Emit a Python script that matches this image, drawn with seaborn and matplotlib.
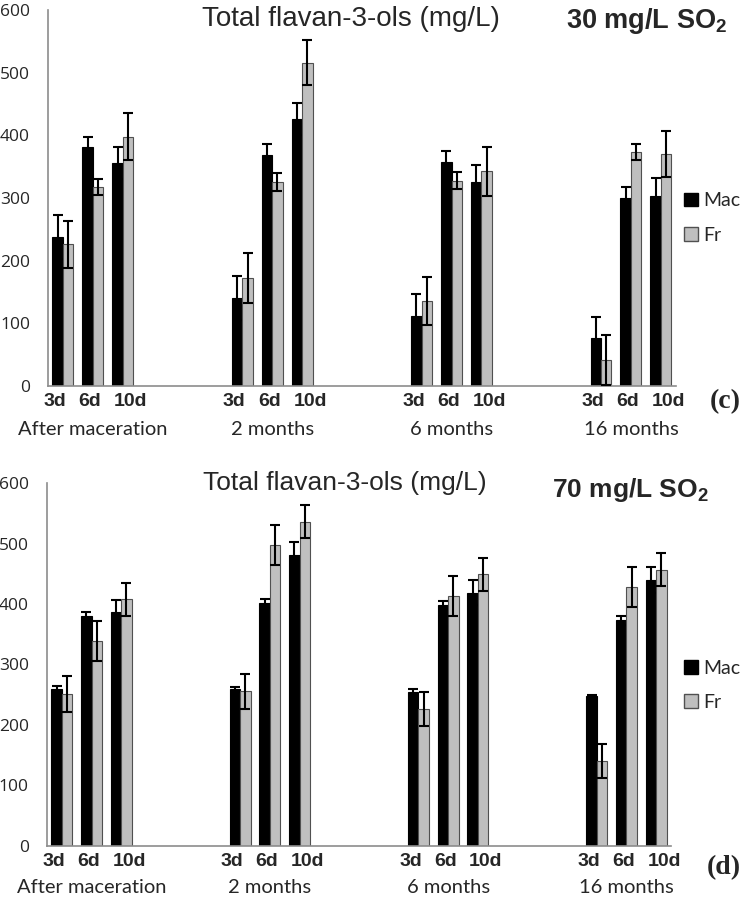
#total flavan-3-ols, Mac vs Fr, 30 and 70 mg/L SO2

import numpy as np
import pandas as pd
import seaborn as sns
import matplotlib.pyplot as plt
import matplotlib.transforms as mtrans
from matplotlib.patches import Patch

groups = ['After maceration', '2 months', '6 months', '16 months']
days = ['3d', '6d', '10d']
series = ['Mac', 'Fr']

#30 mg/L SO2 (c)
mac_30 = [238, 381, 356, 140, 368, 426, 112, 357, 326, 76, 300, 303]
mac_30_err = [35, 17, 26, 35, 18, 25, 35, 18, 26, 34, 18, 29]
fr_30 = [226, 318, 398, 172, 326, 516, 136, 328, 343, 41, 373, 370]
fr_30_err = [38, 13, 37, 40, 14, 36, 38, 13, 39, 40, 13, 37]

#70 mg/L SO2 (d)
mac_70 = [260, 380, 386, 259, 401, 481, 255, 398, 419, 248, 373, 440]
mac_70_err = [4, 7, 20, 4, 7, 22, 5, 7, 20, 1, 7, 21]
fr_70 = [251, 339, 408, 256, 497, 536, 226, 413, 449, 140, 428, 457]
fr_70_err = [30, 33, 27, 29, 33, 27, 28, 33, 27, 28, 33, 28]

colors = {'Mac': '#000000', 'Fr': '#bfbfbf'}

#slots along x: 3 days per group, 3 empty slots between groups
order = []
for i, g in enumerate(groups):
    order += [f'{g} {d}' for d in days]
    if i < len(groups) - 1:
        order += [f'gap{i}{k}' for k in range(3)]
tick_labels = ['' if o.startswith('gap') else o.split()[-1] for o in order]
#small sideways nudge of day labels (pixels), like the original
label_shift = {'3d': -8, '6d': -3, '10d': 8, '': 0}


def make_df(mac, mac_err, fr, fr_err):
    rows = []
    k = 0
    for g in groups:
        for d in days:
            rows.append({'slot': f'{g} {d}', 'series': 'Mac', 'value': mac[k], 'err': mac_err[k]})
            rows.append({'slot': f'{g} {d}', 'series': 'Fr', 'value': fr[k], 'err': fr_err[k]})
            k += 1
    return pd.DataFrame(rows)


def draw_panel(fig, ax, df):
    sns.barplot(data=df, x='slot', y='value', hue='series', order=order,
                hue_order=series, palette=colors, width=0.7, gap=0,
                errorbar=None, legend=False, ax=ax,
                edgecolor='black', linewidth=0.8)
    for bar in ax.containers[1]:
        bar.set_edgecolor('#505050')

    err_lookup = {(r.series, order.index(r.slot)): r.err for r in df.itertuples()}
    for cont, s in zip(ax.containers, series):
        for bar in cont:
            xc = bar.get_x() + bar.get_width() / 2
            ax.errorbar(xc, bar.get_height(), yerr=err_lookup[(s, int(round(xc)))],
                        fmt='none', ecolor='black', elinewidth=1.5,
                        capsize=3.5, capthick=1.5, zorder=5)

    ax.set_xlim(-0.5, len(order) - 0.5)
    ax.set_ylim(0, 600)
    ax.set_yticks(np.arange(0, 601, 100))
    ax.set_xticks(range(len(order)))
    ax.set_xticks(np.arange(-0.5, len(order), 3), minor=True)
    ax.tick_params(axis='x', which='major', length=0, pad=5)
    ax.tick_params(axis='x', which='minor', length=6, color='#8c8c8c', width=1.2)
    ax.tick_params(axis='y', length=3, color='#8c8c8c', width=1.2, pad=10,
                   labelsize=12.5)
    ax.set_xticklabels(tick_labels, fontfamily='Liberation Sans',
                       fontweight='bold', fontsize=14)
    for lab in ax.get_xticklabels():
        dx = label_shift[lab.get_text()] / 100.0
        lab.set_transform(lab.get_transform() +
                          mtrans.ScaledTranslation(dx, 0, fig.dpi_scale_trans))
    for lab in ax.get_yticklabels():
        lab.set_fontfamily('Open Sans')
    ax.set_xlabel('')
    ax.set_ylabel('')
    sns.despine(ax=ax)
    for sp in ['left', 'bottom']:
        ax.spines[sp].set_color('#8c8c8c')
        ax.spines[sp].set_linewidth(1.2)

    #group names under the day labels
    for g in groups:
        mid = order.index(f'{g} 6d')
        ax.text(mid, -0.115, g, transform=ax.get_xaxis_transform(),
                ha='center', va='center', fontsize=14.5, fontfamily='Lato')


sns.set_style('white')
plt.rcParams['font.family'] = ['Lato', 'DejaVu Sans']
plt.rcParams['mathtext.fontset'] = 'custom'
plt.rcParams['mathtext.rm'] = 'Liberation Sans'
plt.rcParams['mathtext.bf'] = 'Liberation Sans:bold'

fig = plt.figure(figsize=(7.42, 8.97), dpi=100)
ax_top = fig.add_axes([0.0647, 0.5697, 0.846, 0.419])
ax_bot = fig.add_axes([0.0633, 0.0569, 0.841, 0.4046])

draw_panel(fig, ax_top, make_df(mac_30, mac_30_err, fr_30, fr_30_err))
draw_panel(fig, ax_bot, make_df(mac_70, mac_70_err, fr_70, fr_70_err))

#titles
fig.text(0.473, 0.979, 'Total flavan-3-ols (mg/L)', ha='center', va='center',
         fontsize=20, fontfamily='Liberation Sans')
fig.text(0.871, 0.977, r'30 mg/L SO$_{\mathbf{2}}$', ha='center', va='center',
         fontsize=19.5, fontfamily='Liberation Sans', fontweight='bold')
fig.text(0.465, 0.4615, 'Total flavan-3-ols (mg/L)', ha='center', va='center',
         fontsize=19, fontfamily='Liberation Sans')
fig.text(0.849, 0.454, r'70 mg/L SO$_{\mathbf{2}}$', ha='center', va='center',
         fontsize=19, fontfamily='Liberation Sans', fontweight='bold')
fig.text(0.977, 0.552, '(c)', ha='center', va='center', fontsize=20,
         fontfamily='Liberation Serif', fontweight='bold')
fig.text(0.976, 0.033, '(d)', ha='center', va='center', fontsize=20,
         fontfamily='Liberation Serif', fontweight='bold')

#legends
handles = [Patch(facecolor=colors['Mac'], edgecolor='black', label='Mac'),
           Patch(facecolor=colors['Fr'], edgecolor='#505050', label='Fr')]
for y in [0.757, 0.236]:
    fig.legend(handles=handles, loc='center left', bbox_to_anchor=(0.922, y),
               frameon=False, handlelength=0.7, handleheight=0.7,
               handletextpad=0.3, labelspacing=0.9, fontsize=14,
               borderaxespad=0, borderpad=0)

fig.savefig('out.png', dpi=100)
